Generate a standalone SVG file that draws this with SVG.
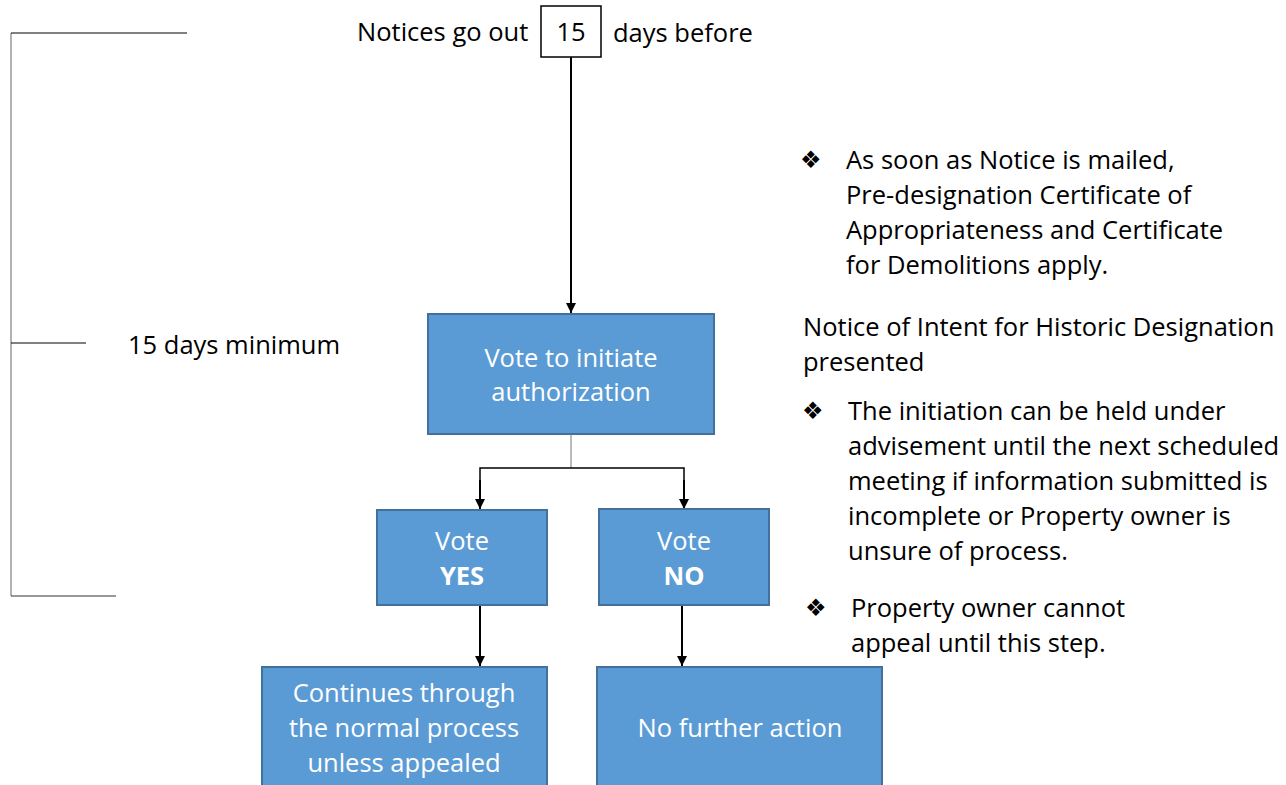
<svg xmlns="http://www.w3.org/2000/svg" width="1286" height="785" viewBox="0 0 1286 785">
<defs>
<marker id="ah" viewBox="0 0 10 10" refX="10" refY="5" markerWidth="10" markerHeight="10" markerUnits="userSpaceOnUse" orient="auto">
<path d="M0,0 L10,5 L0,10 z" fill="#000"/>
</marker>
<style>
.t{font-family:"Open Sans","Liberation Sans",sans-serif;font-size:25.5px;fill:#000}
.w{font-family:"Open Sans","Liberation Sans",sans-serif;font-size:25.5px;fill:#fff;text-anchor:middle}
.b{font-weight:bold}
.box{fill:#5B9BD5;stroke:#41719C;stroke-width:2}
.bul{font-family:"DejaVu Sans",sans-serif;font-size:24px;fill:#000}
.ln{stroke:#000;stroke-width:2;fill:none}
</style>
</defs>
<rect width="1286" height="785" fill="#fff"/>
<g id="bracket">
<line x1="11" y1="33" x2="11" y2="596" stroke="#999" stroke-width="1.5"/>
<line x1="11" y1="33" x2="187" y2="33" stroke="#000" stroke-width="1"/>
<line x1="11" y1="343" x2="86" y2="343" stroke="#000" stroke-width="1"/>
<line x1="11" y1="596" x2="116" y2="596" stroke="#333" stroke-width="1"/>
<text class="t" x="128" y="354">15 days minimum</text>
</g>
<g id="notice">
<text class="t" x="357" y="41">Notices go out</text>
<rect x="541" y="6" width="60" height="51" fill="#fff" stroke="#000" stroke-width="1.5"/>
<text class="t" x="571" y="41" text-anchor="middle">15</text>
<text class="t" x="613" y="42">days before</text>
</g>
<g id="connectors">
<line class="ln" x1="571" y1="57" x2="571" y2="313" marker-end="url(#ah)"/>
<line x1="571" y1="434" x2="571" y2="468" stroke="#777" stroke-width="1"/>
<polyline points="480,509 480,468 684,468 684,509" fill="none" stroke="#000" stroke-width="1.5"/>
<line class="ln" x1="480" y1="480" x2="480" y2="509" marker-end="url(#ah)"/>
<line class="ln" x1="684" y1="480" x2="684" y2="509" marker-end="url(#ah)"/>
<line class="ln" x1="480" y1="605" x2="480" y2="666" marker-end="url(#ah)"/>
<line class="ln" x1="682" y1="605" x2="682" y2="666" marker-end="url(#ah)"/>
</g>
<g id="initiate">
<rect class="box" x="428" y="314" width="286" height="120"/>
<text class="w" x="571" y="367">Vote to initiate</text>
<text class="w" x="571" y="401">authorization</text>
</g>
<g id="yes">
<rect class="box" x="377" y="510" width="170" height="95"/>
<text class="w" x="462" y="550">Vote</text>
<text class="w b" x="462" y="585">YES</text>
</g>
<g id="no">
<rect class="box" x="599" y="509" width="170" height="96"/>
<text class="w" x="684" y="550">Vote</text>
<text class="w b" x="684" y="585">NO</text>
</g>
<g id="continues">
<rect class="box" x="262" y="667" width="285" height="130"/>
<text class="w" x="404" y="702">Continues through</text>
<text class="w" x="404" y="737">the normal process</text>
<text class="w" x="404" y="772">unless appealed</text>
</g>
<g id="nofurther">
<rect class="box" x="597" y="667" width="285" height="130"/>
<text class="w" x="740" y="737">No further action</text>
</g>
<g id="notes">
<text class="bul" x="800" y="168">❖</text>
<text class="t" x="846" y="169">As soon as Notice is mailed,</text>
<text class="t" x="846" y="204">Pre-designation Certificate of</text>
<text class="t" x="846" y="239">Appropriateness and Certificate</text>
<text class="t" x="846" y="274">for Demolitions apply.</text>
<text class="t" x="803" y="336">Notice of Intent for Historic Designation</text>
<text class="t" x="803" y="371">presented</text>
<text class="bul" x="802" y="419">❖</text>
<text class="t" x="848" y="420">The initiation can be held under</text>
<text class="t" x="848" y="455">advisement until the next scheduled</text>
<text class="t" x="848" y="490">meeting if information submitted is</text>
<text class="t" x="848" y="525">incomplete or Property owner is</text>
<text class="t" x="848" y="560">unsure of process.</text>
<text class="bul" x="805" y="616">❖</text>
<text class="t" x="851" y="617">Property owner cannot</text>
<text class="t" x="851" y="652">appeal until this step.</text>
</g>
</svg>
